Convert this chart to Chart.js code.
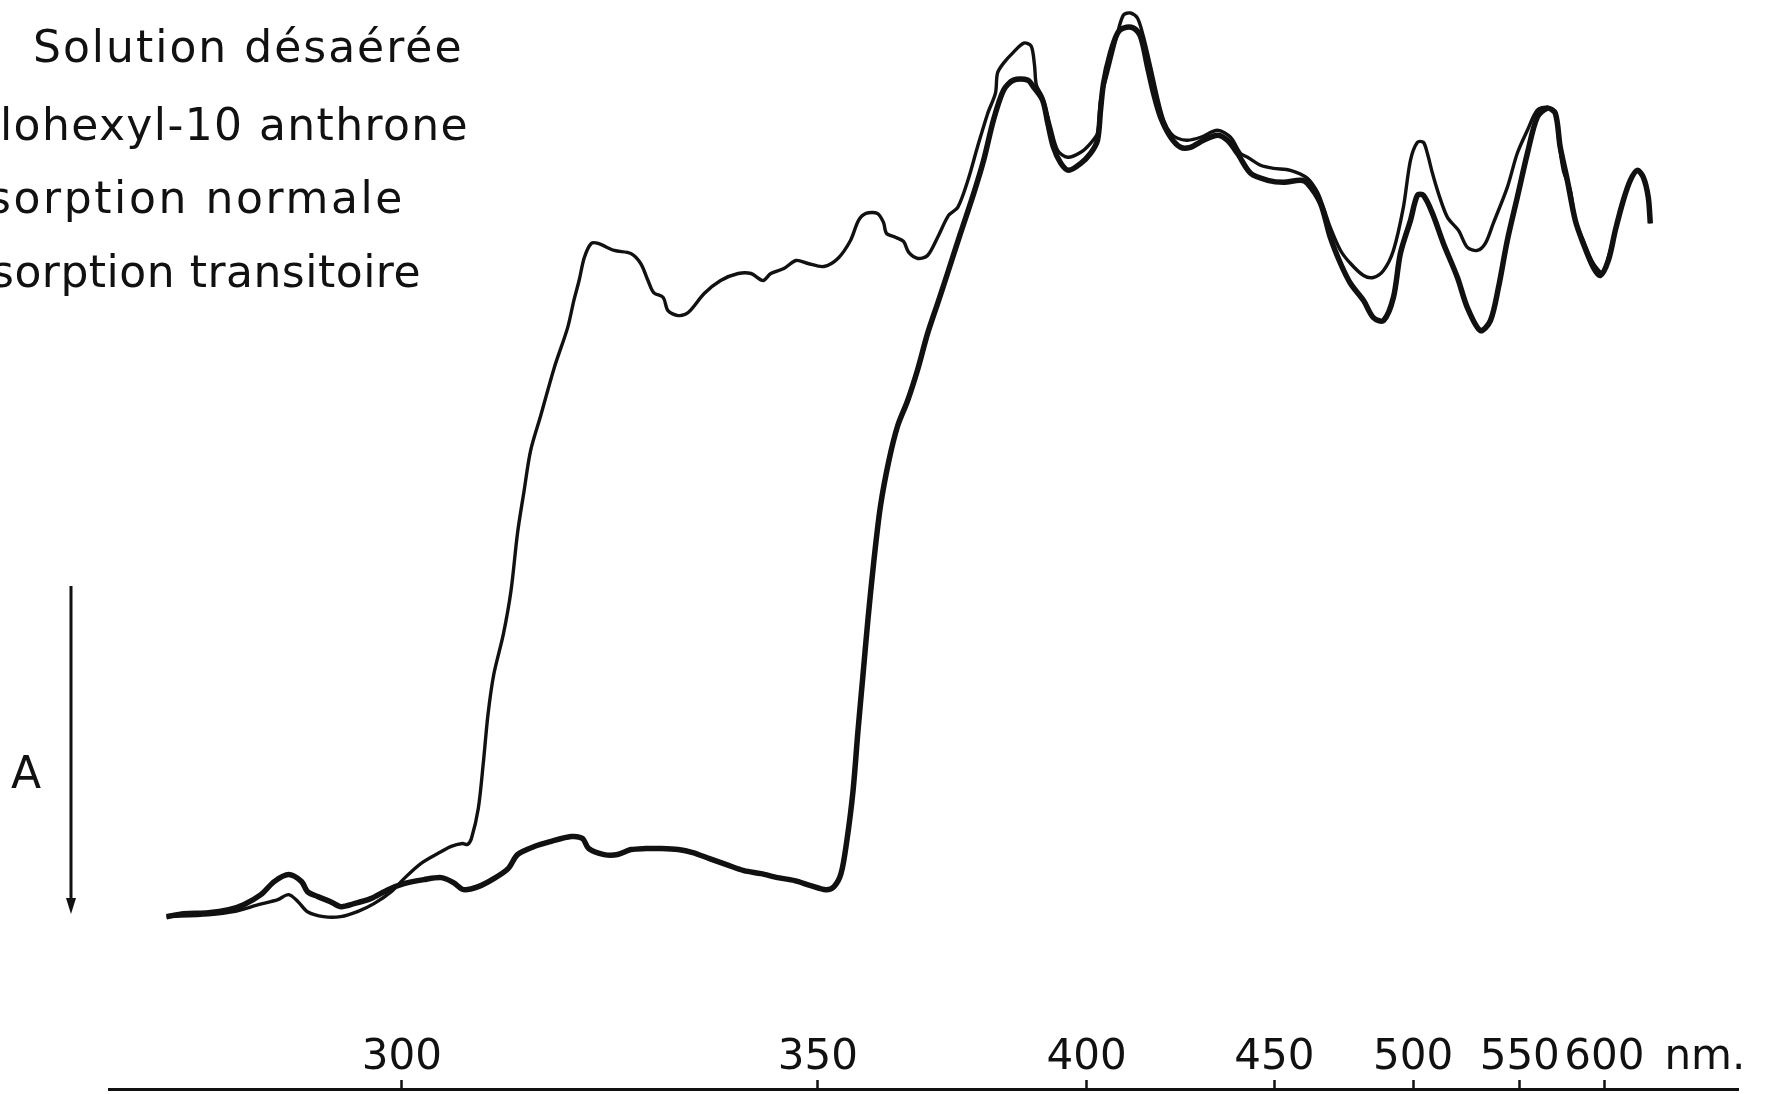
<!DOCTYPE html>
<html><head><meta charset="utf-8">
<script src="https://cdn.jsdelivr.net/npm/chart.js@4/dist/chart.umd.min.js"></script>
<style>html,body{margin:0;padding:0;background:#fff;}canvas{display:block;}</style>
</head><body>
<canvas id="c" width="1765" height="1094"></canvas>
<script>
// ---- axis definition ----
const tickValues = [300, 350, 400, 450, 500, 550, 600];
const unitLabel = 'nm.';
const unitPosition = 677;          // nm value where the unit label sits
const xRange = [276, 708];         // nm range of the drawn axis
const lambda0 = 117.6;             // Hartmann prism-dispersion constant (nm)
const yRange = [-1.67, 9.2];       // absorbance, arbitrary units

// ---- text ----
const titleLines = ['Solution désaérée', 'lohexyl-10 anthrone', 'sorption normale', 'sorption transitoire'];
const axisLabel = 'A';

// ---- series: absorption transitoire (thick trace) ----
const thickNm = [280.2,281.5,283.4,285.0,286.2,287.6,288.7,289.9,291.0,291.5,292.4,293.5,294.4,295.6,297.1,298.7,300.2,302.1,303.8,305.0,306.0,307.5,309.1,310.6,311.6,313.4,315.2,317.5,318.8,319.5,321.3,322.9,324.5,326.3,328.2,330.4,332.3,334.5,336.8,339.2,341.6,344.0,346.5,348.9,351.2,352.5,353.6,354.5,355.5,356.3,357.1,357.9,358.9,360.0,361.4,362.9,364.6,366.4,368.1,369.9,371.7,374.1,376.6,378.5,380.4,382.4,384.4,387.3,388.5,390.4,391.5,392.7,394.3,396.0,398.7,400.9,402.5,403.2,403.9,405.5,407.2,408.6,411.0,412.8,414.5,416.0,417.8,420.4,423.0,425.6,429.2,433.1,435.9,438.8,442.7,447.9,452.9,458.4,460.7,465.1,468.5,472.1,475.7,480.5,484.2,488.1,492.0,494.8,498.9,501.8,504.3,508.2,513.0,519.3,523.9,530.1,535.0,539.0,543.5,548.7,554.1,559.5,565.1,569.7,572.6,576.8,581.6,586.5,592.9,597.4,602.7,607.4,612.9,617.8,622.8,627.2,630.9,632.4];
const thickA = [0.05,0.08,0.09,0.12,0.17,0.27,0.40,0.47,0.40,0.30,0.25,0.20,0.15,0.18,0.23,0.32,0.38,0.42,0.44,0.39,0.32,0.35,0.43,0.53,0.67,0.75,0.80,0.85,0.83,0.73,0.67,0.67,0.72,0.73,0.73,0.72,0.69,0.63,0.57,0.51,0.48,0.44,0.41,0.36,0.32,0.35,0.48,0.80,1.30,1.90,2.45,3.00,3.60,4.15,4.60,4.95,5.20,5.52,5.87,6.17,6.47,6.87,7.27,7.60,8.00,8.30,8.40,8.40,8.33,8.20,7.97,7.73,7.57,7.50,7.57,7.67,7.80,8.10,8.37,8.67,8.87,8.92,8.92,8.83,8.53,8.27,8.03,7.83,7.73,7.73,7.80,7.85,7.80,7.67,7.47,7.40,7.38,7.40,7.37,7.17,6.83,6.57,6.37,6.20,6.03,6.00,6.23,6.67,7.00,7.25,7.25,7.07,6.77,6.43,6.13,5.90,6.00,6.33,6.80,7.23,7.67,8.03,8.12,8.07,7.73,7.40,7.00,6.77,6.53,6.45,6.60,6.90,7.20,7.40,7.50,7.43,7.23,6.97];

// ---- series: absorption normale (thin trace) ----
const thinNm = [280.2,283.4,285.4,287.4,289.0,289.9,290.7,291.5,292.9,294.4,295.9,297.4,299.0,300.2,301.8,303.8,304.7,305.9,306.4,306.8,307.5,308.0,308.5,309.1,310.1,310.9,311.6,312.3,313.0,314.1,315.6,317.1,317.8,318.4,319.0,319.8,320.6,322.5,324.5,325.7,326.6,327.3,328.5,329.1,330.4,331.7,333.8,336.0,338.4,340.2,341.9,343.0,344.9,346.7,348.5,350.9,353.1,355.1,356.4,357.6,359.5,360.5,361.0,362.6,363.9,364.8,366.4,368.1,369.9,371.9,373.6,375.5,377.3,379.3,380.8,381.2,382.4,384.4,386.5,388.0,388.7,389.1,390.4,392.1,393.6,395.8,398.7,400.9,402.5,403.2,404.8,407.2,408.6,410.3,412.0,413.5,415.3,417.0,418.6,420.4,422.2,424.8,428.4,433.1,436.8,439.7,441.8,445.7,449.7,455.1,460.7,464.1,466.1,468.5,472.1,475.7,480.5,484.2,488.1,492.0,496.0,498.9,501.8,504.3,506.0,508.2,510.8,514.8,519.8,523.9,528.6,532.5,536.4,543.5,548.7,554.1,559.5,565.1,569.7,571.5,574.4,578.6,581.6,586.5,592.9,598.7,602.7,607.4,612.9,617.8,622.8,627.2,630.9,632.4];
const thinA = [0.05,0.07,0.10,0.17,0.22,0.27,0.20,0.10,0.05,0.05,0.10,0.18,0.30,0.43,0.58,0.70,0.75,0.78,0.77,0.83,1.13,1.57,2.07,2.47,2.87,3.30,3.88,4.30,4.70,5.05,5.53,5.93,6.20,6.40,6.63,6.77,6.77,6.70,6.67,6.57,6.40,6.28,6.23,6.10,6.05,6.08,6.27,6.40,6.47,6.47,6.40,6.47,6.52,6.60,6.57,6.54,6.62,6.80,7.00,7.07,7.07,6.98,6.87,6.83,6.79,6.68,6.62,6.65,6.83,7.05,7.13,7.40,7.73,8.07,8.27,8.47,8.57,8.68,8.77,8.74,8.55,8.35,8.23,7.93,7.70,7.63,7.68,7.77,7.87,8.20,8.47,8.87,9.05,9.07,9.02,8.83,8.53,8.23,8.00,7.87,7.82,7.80,7.83,7.90,7.83,7.67,7.63,7.55,7.52,7.50,7.42,7.28,7.13,6.93,6.70,6.57,6.45,6.43,6.50,6.70,7.13,7.60,7.78,7.78,7.67,7.47,7.27,7.03,6.90,6.73,6.70,6.77,6.97,7.33,7.67,7.90,8.10,8.13,8.07,7.83,7.50,7.30,7.00,6.80,6.57,6.48,6.63,6.90,7.20,7.40,7.50,7.43,7.23,6.97];

// ---- prism (Hartmann) wavelength scale ----
class PrismScale extends Chart.LinearScale {
  tr(v) { return -1 / (v - lambda0); }
  getPixelForValue(v) {
    const a = this.tr(this.min), b = this.tr(this.max);
    return this.left + (this.tr(v) - a) / (b - a) * this.width;
  }
  getValueForPixel(p) {
    const a = this.tr(this.min), b = this.tr(this.max);
    return lambda0 - 1 / (a + (p - this.left) / this.width * (b - a));
  }
}
PrismScale.id = 'prism';
PrismScale.defaults = Chart.LinearScale.defaults;
Chart.register(PrismScale);

const INK = '#111';
const FONT = '"DejaVu Sans", sans-serif';

const decor = {
  id: 'decor',
  afterDraw(chart) {
    const ctx = chart.ctx;
    ctx.save();
    ctx.fillStyle = INK;
    ctx.font = '44px ' + FONT;
    ctx.textAlign = 'left';
    ctx.textBaseline = 'alphabetic';
    const pos = [[33, 62, '2px'], [0, 140, '1.4px'], [-12, 213, '2.6px'], [-9, 287, '0.5px']];
    titleLines.forEach((t, i) => {
      try { ctx.letterSpacing = pos[i][2]; } catch (e) {}
      ctx.fillText(t, pos[i][0], pos[i][1]);
    });
    try { ctx.letterSpacing = '0px'; } catch (e) {}
    ctx.textAlign = 'center';
    ctx.textBaseline = 'middle';
    ctx.fillText(axisLabel, 26, 777);
    // arrow
    ctx.strokeStyle = INK;
    ctx.lineWidth = 3;
    ctx.beginPath();
    ctx.moveTo(71, 586);
    ctx.lineTo(71, 900);
    ctx.stroke();
    ctx.beginPath();
    ctx.moveTo(66, 898);
    ctx.lineTo(76, 898);
    ctx.lineTo(71, 914);
    ctx.closePath();
    ctx.fill();
    ctx.restore();
  }
};

new Chart(document.getElementById('c'), {
  type: 'line',
  data: {
    datasets: [
      {
        label: 'Absorption transitoire',
        data: thickNm.map((x, i) => ({ x, y: thickA[i] })),
        borderColor: INK, borderWidth: 5.5, pointRadius: 0, tension: 0.3, fill: false
      },
      {
        label: 'Absorption normale',
        data: thinNm.map((x, i) => ({ x, y: thinA[i] })),
        borderColor: INK, borderWidth: 3.4, pointRadius: 0, tension: 0.3, fill: false
      }
    ]
  },
  options: {
    responsive: false,
    animation: false,
    layout: { padding: { left: 109, right: 27, top: 0, bottom: -6 } },
    plugins: { legend: { display: false }, tooltip: { enabled: false } },
    scales: {
      x: {
        type: 'prism',
        min: xRange[0], max: xRange[1],
        afterBuildTicks: (scale) => {
          scale.ticks = tickValues.concat([unitPosition]).map(v => ({ value: v }));
        },
        border: { display: true, color: INK, width: 3 },
        grid: {
          display: true, drawOnChartArea: false, drawTicks: true, tickLength: -9, tickWidth: 2.5,
          tickColor: (c) => (c.tick && c.tick.value === unitPosition) ? 'rgba(0,0,0,0)' : INK
        },
        ticks: {
          mirror: true, padding: 10, autoSkip: false, maxRotation: 0, color: INK,
          font: { family: FONT, size: 42, lineHeight: 1 },
          callback: (v) => v === unitPosition ? unitLabel : String(v)
        }
      },
      y: { type: 'linear', display: false, min: yRange[0], max: yRange[1] }
    }
  },
  plugins: [decor]
});
</script>
</body></html>
